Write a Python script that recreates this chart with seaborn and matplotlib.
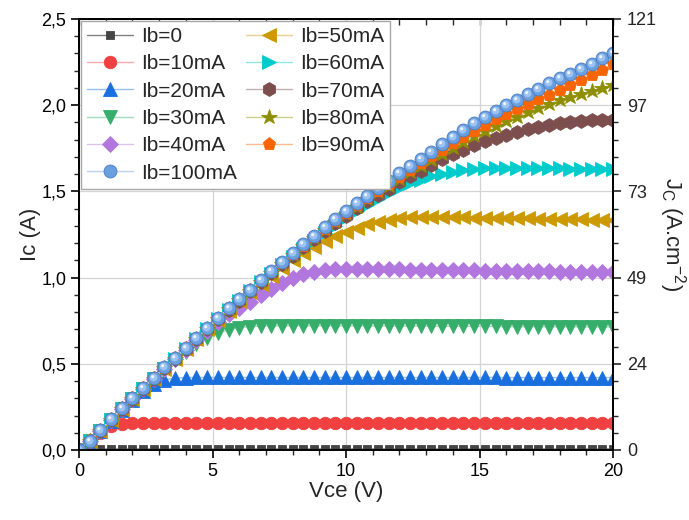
import numpy as np
import pandas as pd
import matplotlib
matplotlib.use("Agg")
import matplotlib.pyplot as plt
import matplotlib.colors as mcolors
from matplotlib.path import Path
from matplotlib.markers import MarkerStyle
from matplotlib.ticker import MultipleLocator
import seaborn as sns

# ---------------- data ----------------
VCE = [0.0, 0.4, 0.8, 1.2, 1.6, 2.0, 2.4, 2.8, 3.2, 3.6,
       4.0, 4.4, 4.8, 5.2, 5.6, 6.0, 6.4, 6.8, 7.2, 7.6,
       8.0, 8.4, 8.8, 9.2, 9.6, 10.0, 10.4, 10.8, 11.2, 11.6,
       12.0, 12.4, 12.8, 13.2, 13.6, 14.0, 14.4, 14.8, 15.2, 15.6,
       16.0, 16.4, 16.8, 17.2, 17.6, 18.0, 18.4, 18.8, 19.2, 19.6,
       20.0]

IB0 = [0.000] + [0.006] * 50

IB10 = [0.000, 0.048, 0.100, 0.137, 0.151, 0.156, 0.157, 0.158, 0.158, 0.158,
        0.158, 0.158, 0.158, 0.158, 0.158, 0.158, 0.158, 0.158, 0.158, 0.158,
        0.158, 0.158, 0.158, 0.158, 0.158, 0.158, 0.158, 0.158, 0.158, 0.158,
        0.158, 0.158, 0.158, 0.158, 0.158, 0.158, 0.158, 0.158, 0.158, 0.158,
        0.158, 0.158, 0.158, 0.158, 0.158, 0.158, 0.158, 0.158, 0.158, 0.158,
        0.158]

IB20 = [0.000, 0.050, 0.108, 0.170, 0.230, 0.288, 0.340, 0.383, 0.407, 0.417,
        0.420, 0.421, 0.421, 0.421, 0.421, 0.421, 0.421, 0.421, 0.421, 0.421,
        0.421, 0.421, 0.421, 0.421, 0.421, 0.421, 0.421, 0.421, 0.421, 0.421,
        0.421, 0.421, 0.421, 0.421, 0.421, 0.421, 0.421, 0.421, 0.421, 0.421,
        0.420, 0.420, 0.420, 0.420, 0.420, 0.420, 0.420, 0.420, 0.420, 0.420,
        0.420]

IB30 = [0.000, 0.050, 0.110, 0.174, 0.235, 0.296, 0.354, 0.411, 0.467, 0.520,
        0.569, 0.614, 0.651, 0.678, 0.698, 0.710, 0.716, 0.719, 0.720, 0.721,
        0.721, 0.721, 0.721, 0.721, 0.720, 0.720, 0.720, 0.720, 0.719, 0.719,
        0.719, 0.719, 0.718, 0.718, 0.718, 0.718, 0.717, 0.717, 0.717, 0.717,
        0.716, 0.716, 0.716, 0.716, 0.715, 0.715, 0.715, 0.715, 0.714, 0.714,
        0.714]

IB40 = [0.000, 0.050, 0.110, 0.174, 0.235, 0.297, 0.355, 0.412, 0.470, 0.526,
        0.582, 0.636, 0.690, 0.742, 0.788, 0.826, 0.861, 0.897, 0.934, 0.967,
        0.996, 1.019, 1.035, 1.044, 1.049, 1.050, 1.050, 1.049, 1.049, 1.048,
        1.047, 1.046, 1.046, 1.045, 1.044, 1.043, 1.043, 1.042, 1.041, 1.040,
        1.039, 1.039, 1.038, 1.037, 1.036, 1.035, 1.034, 1.033, 1.032, 1.031,
        1.030]

IB50 = [0.000, 0.050, 0.110, 0.174, 0.235, 0.297, 0.356, 0.414, 0.472, 0.530,
        0.587, 0.643, 0.700, 0.755, 0.809, 0.862, 0.914, 0.964, 1.012, 1.058,
        1.102, 1.143, 1.180, 1.212, 1.240, 1.266, 1.289, 1.309, 1.325, 1.337,
        1.345, 1.350, 1.352, 1.352, 1.351, 1.350, 1.349, 1.348, 1.347, 1.346,
        1.345, 1.344, 1.343, 1.342, 1.341, 1.340, 1.339, 1.338, 1.337, 1.336,
        1.335]

IB60 = [0.000, 0.050, 0.110, 0.174, 0.235, 0.297, 0.356, 0.414, 0.472, 0.530,
        0.588, 0.645, 0.702, 0.758, 0.813, 0.867, 0.920, 0.972, 1.023, 1.072,
        1.120, 1.167, 1.213, 1.258, 1.302, 1.345, 1.385, 1.423, 1.458, 1.490,
        1.520, 1.546, 1.568, 1.587, 1.602, 1.614, 1.623, 1.629, 1.634, 1.636,
        1.637, 1.637, 1.636, 1.635, 1.634, 1.633, 1.632, 1.631, 1.630, 1.629,
        1.628]

IB70 = [0.000, 0.050, 0.110, 0.174, 0.235, 0.297, 0.356, 0.414, 0.473, 0.530,
        0.587, 0.644, 0.702, 0.758, 0.813, 0.867, 0.920, 0.972, 1.024, 1.076,
        1.128, 1.177, 1.225, 1.270, 1.315, 1.360, 1.402, 1.442, 1.480, 1.516,
        1.552, 1.587, 1.621, 1.654, 1.686, 1.716, 1.743, 1.768, 1.790, 1.811,
        1.830, 1.847, 1.862, 1.875, 1.886, 1.895, 1.902, 1.908, 1.912, 1.915,
        1.917]

IB80 = [0.000, 0.050, 0.110, 0.174, 0.235, 0.297, 0.356, 0.414, 0.473, 0.530,
        0.587, 0.644, 0.702, 0.759, 0.815, 0.869, 0.923, 0.976, 1.029, 1.081,
        1.132, 1.182, 1.231, 1.279, 1.325, 1.369, 1.412, 1.454, 1.494, 1.534,
        1.573, 1.611, 1.648, 1.683, 1.718, 1.753, 1.787, 1.820, 1.851, 1.880,
        1.908, 1.934, 1.960, 1.985, 2.007, 2.028, 2.047, 2.066, 2.083, 2.100,
        2.116]

IB90 = [0.000, 0.052, 0.112, 0.176, 0.237, 0.299, 0.358, 0.416, 0.475, 0.532,
        0.589, 0.646, 0.704, 0.761, 0.817, 0.872, 0.926, 0.980, 1.033, 1.085,
        1.136, 1.186, 1.236, 1.284, 1.331, 1.376, 1.420, 1.463, 1.504, 1.545,
        1.586, 1.626, 1.665, 1.704, 1.742, 1.780, 1.817, 1.853, 1.887, 1.919,
        1.949, 1.978, 2.006, 2.034, 2.062, 2.090, 2.118, 2.146, 2.175, 2.207,
        2.237]

IB100 = [0.000, 0.055, 0.116, 0.180, 0.241, 0.303, 0.362, 0.420, 0.479, 0.536,
         0.593, 0.650, 0.708, 0.765, 0.821, 0.876, 0.930, 0.984, 1.037, 1.090,
         1.141, 1.192, 1.242, 1.291, 1.339, 1.386, 1.431, 1.476, 1.519, 1.562,
         1.605, 1.648, 1.690, 1.731, 1.773, 1.813, 1.854, 1.894, 1.932, 1.967,
         2.000, 2.032, 2.064, 2.096, 2.126, 2.155, 2.183, 2.211, 2.241, 2.273,
         2.305]

LABELS = ["Ib=0", "Ib=10mA", "Ib=20mA", "Ib=30mA", "Ib=40mA", "Ib=50mA",
          "Ib=60mA", "Ib=70mA", "Ib=80mA", "Ib=90mA", "Ib=100mA"]
SERIES = [IB0, IB10, IB20, IB30, IB40, IB50, IB60, IB70, IB80, IB90, IB100]

X_TICKS = [0, 5, 10, 15, 20]
Y_TICKS = [0.0, 0.5, 1.0, 1.5, 2.0, 2.5]
Y_TICKLABELS = ["0,0", "0,5", "1,0", "1,5", "2,0", "2,5"]
JC_TICKLABELS = ["0", "24", "49", "73", "97", "121"]

# ---------------- style ----------------
COLORS = ["#454545", "#F04040", "#1A6FDF", "#37AD6B", "#B177DE", "#CC9900",
          "#00CBCC", "#7D4E4E", "#8E8E00", "#FB6501", "#6A9FE0"]
MARKERS = ["s", "o", "^", "v", "D", "<", ">", "h", "*", "p", "o"]
MSIZES = [6, 9, 10, 10, 8, 10, 10, 10, 11.5, 9.5, 9.3]

sns.set_style("white")
plt.rcParams['font.family'] = ['Liberation Sans', 'DejaVu Sans']
plt.rcParams['mathtext.default'] = 'regular'


def lighten(c, f=0.55):
    r, g, b = mcolors.to_rgb(c)
    return (r + (1 - r) * f, g + (1 - g) * f, b + (1 - b) * f)


def offset_circle(cx, cy, r):
    circ = Path.circle(center=(cx, cy), radius=r)
    frame = Path([(-0.5, -0.5), (0.5, 0.5)], [Path.MOVETO, Path.MOVETO])
    return MarkerStyle(Path.make_compound_path(frame, circ))


fig = plt.figure(figsize=(6.89, 5.20), dpi=100)
ax = fig.add_axes([79 / 689, 70 / 520, 534 / 689, 431 / 520])

df = pd.DataFrame({"Vce": VCE})
for lab, vals in zip(LABELS, SERIES):
    df[lab] = vals

for i, lab in enumerate(LABELS):
    c = COLORS[i]
    lc = "#808080" if i == 0 else lighten(c)
    ec = "#4A7CC0" if i == 10 else c
    sns.lineplot(data=df, x="Vce", y=lab, ax=ax, color=lc, linewidth=1.0,
                 marker=MARKERS[i], markersize=MSIZES[i],
                 markerfacecolor=c, markeredgecolor=ec, markeredgewidth=0.6,
                 label=lab, zorder=3 + i)

# sphere-like highlight on the Ib=100mA markers
sns.lineplot(data=df, x="Vce", y="Ib=100mA", ax=ax, linestyle="none",
             marker=offset_circle(-0.07, 0.07, 0.30), markersize=9.3,
             markerfacecolor="#9CC3F2", markeredgewidth=0, zorder=20,
             legend=False)
sns.lineplot(data=df, x="Vce", y="Ib=100mA", ax=ax, linestyle="none",
             marker=offset_circle(-0.14, 0.14, 0.12), markersize=9.3,
             markerfacecolor="#EEF5FF", markeredgewidth=0, zorder=21,
             legend=False)

ax.set_xlim(0, 20)
ax.set_ylim(0, 2.5)
ax.set_xticks(X_TICKS)
ax.set_xticklabels([str(t) for t in X_TICKS])
ax.set_yticks(Y_TICKS)
ax.set_yticklabels(Y_TICKLABELS)
ax.xaxis.set_minor_locator(MultipleLocator(1))
ax.yaxis.set_minor_locator(MultipleLocator(0.1))
ax.tick_params(which="major", direction="out", length=6, width=1.2,
               labelsize=13, colors="black", pad=3)
ax.tick_params(which="minor", direction="out", length=3.5, width=1.0)
ax.tick_params(bottom=True, left=True, top=False, right=False, which="both")
ax.grid(True, which="major", color="#d4d4d4", linewidth=0.9)
ax.set_axisbelow(True)
for s in ax.spines.values():
    s.set_color("black")
    s.set_linewidth(1.3)

ax.set_xlabel("Vce (V)", fontsize=16, labelpad=1)
ax.set_ylabel("Ic (A)", fontsize=16, labelpad=0)

secx = ax.secondary_xaxis("top")
secx.set_xticks(list(range(0, 21)))
secx.set_xticklabels([])
secx.tick_params(direction="in", length=4, width=1.0)
secx.spines["top"].set_linewidth(1.3)

ax2 = ax.twinx()
ax2.set_ylim(0, 2.5)
ax2.set_yticks(Y_TICKS)
ax2.set_yticklabels(JC_TICKLABELS)
ax2.yaxis.set_minor_locator(MultipleLocator(0.1))
ax2.tick_params(which="major", direction="out", length=6, width=1.2,
                labelsize=13, pad=4)
ax2.tick_params(which="minor", direction="out", length=3.5, width=1.0)
ax2.grid(False)
for s in ax2.spines.values():
    s.set_linewidth(1.3)
    s.set_color("black")
ax2.set_ylabel(r"J$_{C}$ (A.cm$^{-2}$)", fontsize=16, rotation=270,
               labelpad=22)

handles, labels = ax.get_legend_handles_labels()
order = [0, 1, 2, 3, 4, 10, 5, 6, 7, 8, 9]
leg = ax.legend([handles[i] for i in order], [labels[i] for i in order],
                ncol=2, loc="upper left", bbox_to_anchor=(0.004, 0.996),
                frameon=True, fancybox=False, edgecolor="#a8a8a8",
                framealpha=1, fontsize=15, handlelength=2.2,
                columnspacing=0.4, labelspacing=0.4, borderpad=0.3,
                handletextpad=0.4, borderaxespad=0)
leg.get_frame().set_linewidth(1.0)
leg.set_zorder(30)

fig.savefig("out.png", dpi=100)
